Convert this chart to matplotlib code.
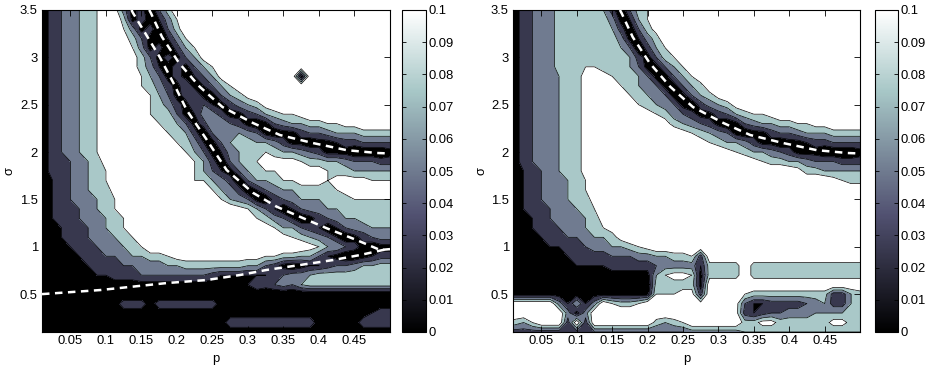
import numpy as np
import matplotlib
matplotlib.use("Agg")
import matplotlib.pyplot as plt
from matplotlib.colors import Normalize
from matplotlib.cm import ScalarMappable

plt.rcParams['font.family'] = ['Liberation Sans', 'DejaVu Sans']

# ---------------- data ----------------
p_nodes = np.linspace(0.0, 0.5, 41)                  # 0, 0.0125, ... 0.5
sigma_nodes = np.round(np.linspace(3.5, 0.1, 35), 2)  # top row first

# field values in units of 0.01 (hex digit, a = 0.10 or more), one string per sigma row
left_rows = [
    "01345678a9513047a" + "a"*24,
    "01345678aa7131258a" + "a"*23,
    "01345678aa8513047a" + "a"*23,
    "01345678aa97411258a" + "a"*22,
    "01345678aaa85130368a" + "a"*21,
    "01345678aa9974131469a" + "a"*20,
    "01345678aaa9752131468a" + "a"*19,
    "01345678aaa98641312469a" + "a"*7 + "0" + "a"*10,
    "01345678aaaa87531412468a" + "a"*17,
    "01345678aaaa9864134114679" + "a"*16,
    "01345678aaaaa87531442135679" + "a"*14,
    "01345678aaaaa887412553113467889" + "a"*10,
    "01345678a" + "aaaaa" + "88641366431014566778899" + "aaaa",
    "01345678a" + "aaaaaa" + "88630466654101134456667777",
    "01345678a" + "a"*7 + "8752146776653110112334444",
    "01345678a" + "a"*8 + "864125677876654311100001",
    "013446679" + "a"*9 + "86304678999987766544433",
    "013345678a" + "a"*7 + "986421467889999987766666",
    "0123456789" + "a"*8 + "88653046678899989999888",
    "0123456779" + "a"*9 + "986530245667778899aaaa",
    "0123456678a" + "a"*9 + "986541034566677788888",
    "01234456789" + "a"*11 + "a986420245566777888",
    "01233456678" + "a"*13 + "a8754201345667777",
    "012234456789" + "a"*13 + "a986643202455666",
    "011233455678a" + "a"*15 + "9876542013455",
    "0112234456678" + "a"*18 + "9866431011",
    "0011223344566778" + "9"*10 + "887766421001233",
    "00011223334455566" + "777777" + "766431012234456677",
    "00000112233344444" + "444322222234556777777777",
    "1"*24 + "24345467777777777",
    "0"*41,
    "1"*10 + "333" + "1" + "3"*7 + "1"*20,
    "1"*38 + "233",
    "1"*22 + "3"*10 + "1"*5 + "3"*4,
    "1"*41,
]

right_rows = [
    "01345577777" + "630478" + "a"*24,
    "01345577777" + "751268" + "a"*24,
    "01345577777" + "7630479" + "a"*23,
    "013455777777" + "751257" + "a"*23,
    "013455777777" + "7640368" + "a"*22,
    "0134557777777" + "7631478" + "a"*21,
    "013455777887776411468a" + "a"*19,
    "013455677" + "9a98776" + "411468" + "a"*19,
    "013455677" + "9aa987654" + "11467" + "a"*18,
    "013455677" + "9aaa98765" + "4114679" + "a"*16,
    "013455677" + "9aaaa987654" + "1035679" + "a"*14,
    "013455677" + "9aaaaaa9" + "87543113467889" + "a"*10,
    "013455677" + "9aaaaaaaa9" + "765431014566778899" + "a"*4,
    "013455677" + "9aaaaaaaaaa9" + "87654101134456667777",
    "0134556779" + "a"*12 + "9876653110112334444",
    "0134556779" + "a"*15 + "9876654311100001",
    "0134556779" + "a"*18 + "9877665444333",
    "0124456779" + "a"*23 + "97766666",
    "0123456678" + "a"*27 + "9877",
    "0123455678" + "a"*31,
    "01234556779" + "a"*30,
    "01234456678" + "a"*30,
    "011234556679" + "a"*29,
    "0112334556789" + "a"*28,
    "00112334456679" + "a"*27,
    "0011122344556678" + "9" + "a"*24,
    "00011222333344455667783" + "a"*18,
    "00001111222233333" + "45555" + "2" + "7777" + "a" + "7"*13,
    "00000000111111111" + "68998" + "1" + "7777" + "a" + "7"*13,
    "0"*17 + "77777" + "1" + "a"*18,
    "1"*17 + "88899" + "3" + "aaa98" + "7"*9 + "33" + "67",
    "aaaaaa" + "52625" + "a" + "8778" + "aaaaa" + "999999" + "4" + "22333345" + "63367",
    "a"*7 + "515" + "a"*11 + "9"*6 + "32344555666677",
    "a768aaa3a3" + "a"*7 + "7678" + "a"*6 + "77997777779977",
    "3"*10 + "4"*11 + "5"*6 + "6"*14,
]

# dashed white curves
curveA_p = [0.161, 0.1635, 0.179, 0.203, 0.232, 0.264, 0.307, 0.345, 0.391, 0.439, 0.482, 0.5]
curveA_s = [3.5, 3.465, 3.215, 2.94, 2.69, 2.476, 2.307, 2.18, 2.096, 2.02, 1.99, 1.985]
curveB_p = [0.136, 0.138, 0.176, 0.195, 0.214, 0.242, 0.27, 0.307, 0.3405, 0.373, 0.411, 0.453, 0.486, 0.5]
curveB_s = [3.5, 3.47, 3.0, 2.73, 2.44, 2.13, 1.81, 1.57, 1.423, 1.317, 1.195, 1.071, 0.966, 0.975]
curveC_p = [0.01, 0.092, 0.186, 0.242, 0.289, 0.326, 0.373, 0.42, 0.458, 0.49, 0.5]
curveC_s = [0.5, 0.543, 0.617, 0.649, 0.702, 0.755, 0.807, 0.86, 0.913, 0.966, 0.975]

x_ticks = [0.05, 0.1, 0.15, 0.2, 0.25, 0.3, 0.35, 0.4, 0.45]
x_tick_labels = ["0.05", "0.1", "0.15", "0.2", "0.25", "0.3", "0.35", "0.4", "0.45"]
y_ticks = [0.5, 1, 1.5, 2, 2.5, 3, 3.5]
y_tick_labels = ["0.5", "1", "1.5", "2", "2.5", "3", "3.5"]
cb_ticks = [0, 0.01, 0.02, 0.03, 0.04, 0.05, 0.06, 0.07, 0.08, 0.09, 0.1]
cb_tick_labels = ["0", "0.01", "0.02", "0.03", "0.04", "0.05", "0.06", "0.07", "0.08", "0.09", "0.1"]

# ---------------- drawing ----------------
bone = plt.get_cmap('bone')
band_edges = [-0.01, 0.02, 0.04, 0.06, 0.08, 0.2]
band_colors = [bone(0.0), bone(0.25), bone(0.5), bone(0.75), (1, 1, 1, 1)]
FS = 9.4


def to_grid(rows):
    out = []
    for r in rows:
        r = (r + r[-1] * 41)[:41]
        out.append([int(c, 16) for c in r])
    return np.array(out, dtype=float)[::-1] * 0.01


fig = plt.figure(figsize=(9.35, 3.72), dpi=100)
W, H = 935.0, 372.0
bottom = (H - 332) / H
height = 322 / H
ax1 = fig.add_axes([42 / W, bottom, 348 / W, height])
cax1 = fig.add_axes([402 / W, bottom, 24 / W, height])
ax2 = fig.add_axes([513 / W, bottom, 347 / W, height])
cax2 = fig.add_axes([875 / W, bottom, 23 / W, height])

panels = [
    (ax1, cax1, left_rows, [(curveA_p, curveA_s), (curveB_p, curveB_s), (curveC_p, curveC_s)]),
    (ax2, cax2, right_rows, [(curveA_p, curveA_s)]),
]

S = sigma_nodes[::-1]
for ax, cax, rows, curves in panels:
    Z = to_grid(rows)
    ax.contourf(p_nodes, S, Z, levels=band_edges, colors=band_colors)
    ax.contour(p_nodes, S, Z, levels=band_edges[1:-1], colors='k', linewidths=0.5)
    for cp, cs in curves:
        ax.plot(cp, cs, color='white', lw=1.8, dashes=(3, 2.2),
                dash_capstyle='butt', zorder=5)
    ax.set_xlim(0.01, 0.5)
    ax.set_ylim(0.1, 3.5)
    ax.set_xticks(x_ticks)
    ax.set_xticklabels(x_tick_labels, fontsize=FS)
    ax.set_yticks(y_ticks)
    ax.set_yticklabels(y_tick_labels, fontsize=FS)
    ax.tick_params(direction='in', top=True, right=True, length=4, width=0.6)
    ax.tick_params(axis='x', pad=2.5)
    ax.tick_params(axis='y', pad=3)
    for sp in ax.spines.values():
        sp.set_linewidth(0.8)
    ax.set_xlabel('p', fontsize=FS)
    ax.set_ylabel('σ', fontsize=FS)
    ax.xaxis.set_label_coords(0.5, -0.085)
    ax.xaxis.label.set_verticalalignment('center')
    ax.yaxis.set_label_coords(-0.092, 0.5)
    ax.yaxis.label.set_verticalalignment('center')
    ax.yaxis.label.set_horizontalalignment('center')

    sm = ScalarMappable(norm=Normalize(0, 0.1), cmap=bone)
    cb = fig.colorbar(sm, cax=cax, ticks=cb_ticks)
    cb.ax.set_yticklabels(cb_tick_labels, fontsize=FS)
    cb.ax.tick_params(direction='in', left=True, right=True, length=3, width=0.6, pad=2)
    cb.outline.set_linewidth(0.8)

fig.savefig('out.png', dpi=100)
